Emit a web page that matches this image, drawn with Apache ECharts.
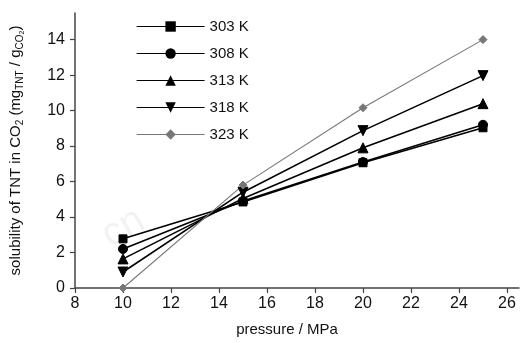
<!DOCTYPE html>
<html>
<head>
<meta charset="utf-8">
<script src="https://cdn.jsdelivr.net/npm/echarts@6/dist/echarts.min.js"></script>
<style>
  html, body { margin: 0; padding: 0; background: #fff; }
  #chart { width: 521px; height: 343px; }
</style>
</head>
<body>
<div id="chart"></div>
<script>
// pressure (MPa) and TNT solubility
const pressures = [10, 15, 20, 25]
const seriesNames = ["303 K", "308 K", "313 K", "318 K", "323 K"]
const s303 = [2.77, 4.85, 7.06, 9.03]
const s308 = [2.2, 4.9, 7.1, 9.2]
const s313 = [1.64, 5.05, 7.9, 10.39]
const s318 = [0.9, 5.4, 8.87, 11.97]
const s323 = [0.0, 5.8, 10.16, 14.0]

const font = "'Liberation Sans', Arial, sans-serif"
const values = [s303, s308, s313, s318, s323]
const looks = [
  { symbol: "rect", size: 8, rotate: 0, color: "#000", width: 1.6 },
  { symbol: "circle", size: 9, rotate: 0, color: "#000", width: 1.6 },
  { symbol: "triangle", size: 10, rotate: 0, color: "#000", width: 1.6 },
  { symbol: "triangle", size: 10, rotate: 180, color: "#000", width: 1.6 },
  { symbol: "diamond", size: 8, rotate: 0, color: "#777", width: 1.1 },
]

const chart = echarts.init(document.getElementById("chart"), null, { renderer: "canvas" })

chart.setOption({
  backgroundColor: "#fff",
  animation: false,
  grid: { left: 75, right: 2, top: 13, bottom: 55 },
  legend: {
    orient: "vertical",
    left: 131,
    top: 14,
    itemWidth: 68,
    itemHeight: 13,
    itemGap: 12,
    lineStyle: { width: 1.2 },
    textStyle: { fontFamily: font, fontSize: 15, color: "#111" },
    data: seriesNames,
  },
  xAxis: {
    type: "value",
    min: 8,
    max: 26.5,
    interval: 2,
    name: "pressure / MPa",
    nameLocation: "middle",
    nameGap: 34,
    nameTextStyle: { fontFamily: font, fontSize: 15, color: "#111", padding: [0, 20, 0, 0] },
    axisLine: { show: true, lineStyle: { color: "#444", width: 1.5 } },
    axisTick: { show: true, length: 5, lineStyle: { color: "#444", width: 1.2 } },
    axisLabel: { fontFamily: font, fontSize: 16, color: "#111", margin: 8, showMaxLabel: false },
    splitLine: { show: false },
  },
  yAxis: {
    type: "value",
    min: 0,
    max: 15.5,
    interval: 2,
    name: "solubility of TNT in CO{s|2} (mg{s|TNT} / g{s|CO}{ss|2})",
    nameLocation: "middle",
    nameRotate: 90,
    nameGap: 49,
    nameTextStyle: {
      fontFamily: font,
      fontSize: 15,
      color: "#111",
      rich: {
        s: { fontFamily: font, fontSize: 10, color: "#111", padding: [9, 0, 0, 0] },
        ss: { fontFamily: font, fontSize: 7, color: "#111", padding: [14, 0, 0, 0] },
      },
    },
    axisLine: { show: true, lineStyle: { color: "#444", width: 1.5 } },
    axisTick: { show: true, length: 5, lineStyle: { color: "#444", width: 1.2 } },
    axisLabel: { fontFamily: font, fontSize: 16, color: "#111", margin: 10, showMaxLabel: false },
    splitLine: { show: false },
  },
  graphic: [
    {
      type: "text",
      left: 95,
      top: 200,
      rotation: Math.PI / 6,
      silent: true,
      style: { text: "cn", fontFamily: font, fontSize: 40, fill: "rgba(0,0,0,0.05)" },
    },
  ],
  series: seriesNames.map((name, i) => ({
    name,
    type: "line",
    data: pressures.map((p, j) => [p, values[i][j]]),
    symbol: looks[i].symbol,
    symbolSize: looks[i].size,
    symbolRotate: looks[i].rotate,
    showAllSymbol: true,
    lineStyle: { color: looks[i].color, width: looks[i].width },
    itemStyle: { color: looks[i].color, borderColor: looks[i].color },
  })),
})
</script>
</body>
</html>
